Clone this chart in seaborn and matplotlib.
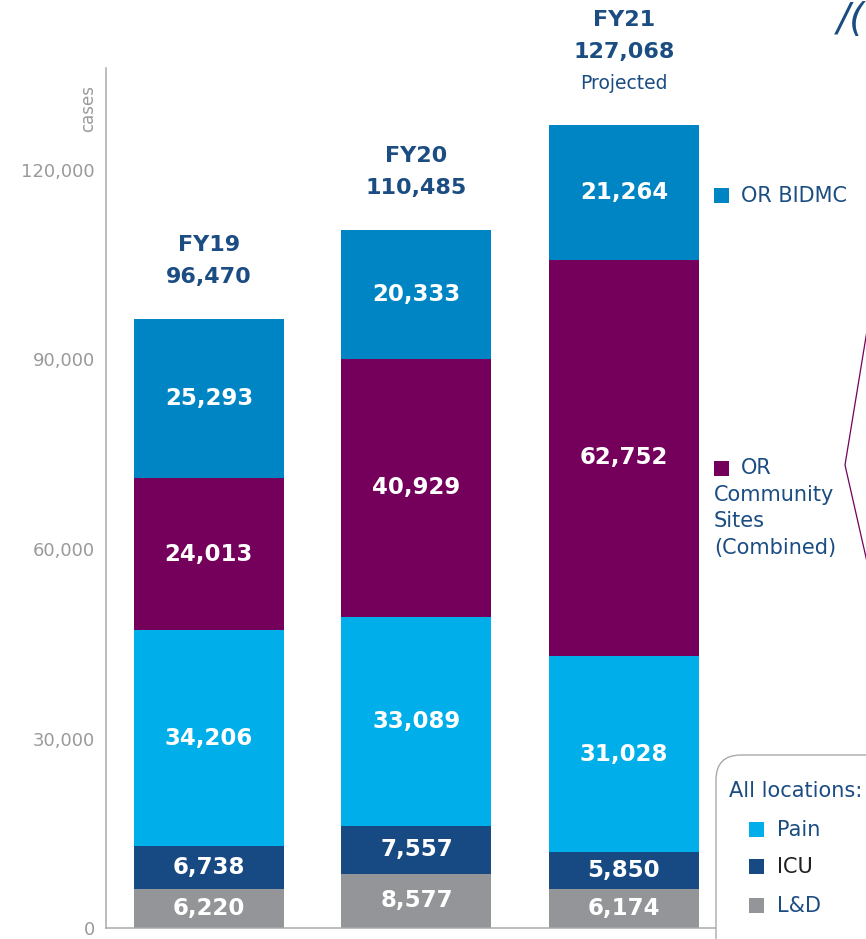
import matplotlib
matplotlib.use("Agg")
import matplotlib.pyplot as plt
import seaborn as sns
import pandas as pd
import numpy as np
from matplotlib.patches import Rectangle, FancyBboxPatch
from matplotlib.lines import Line2D

# ---------------- data ----------------
years = ["FY19", "FY20", "FY21"]
totals_text = ["96,470", "110,485", "127,068"]
ld = [6220, 8577, 6174]
icu = [6738, 7557, 5850]
pain = [34206, 33089, 31028]
or_comm = [24013, 40929, 62752]
or_bidmc = [25293, 20333, 21264]
series_names = ["L&D", "ICU", "Pain", "OR Community", "OR BIDMC"]
y_ticks = [0, 30000, 60000, 90000, 120000]

C_LD = "#939598"
C_ICU = "#174A83"
C_PAIN = "#00AEEA"
C_COMM = "#74005C"
C_BIDMC = "#0085C4"
C_TEXT = "#1B4C82"
C_GRAY = "#9a9a9a"

series = [ld, icu, pain, or_comm, or_bidmc]
colors = [C_LD, C_ICU, C_PAIN, C_COMM, C_BIDMC]

df = pd.DataFrame({"year": years})
for n, s in zip(series_names, series):
    df[n] = s
cum = df[series_names].cumsum(axis=1)
bottoms = cum.shift(1, axis=1).fillna(0)

sns.set_style("white")
plt.rcParams["font.family"] = ["DejaVu Sans"]

W, H = 866, 939
fig = plt.figure(figsize=(W / 100, H / 100), dpi=100)
ax = fig.add_axes([106 / W, (H - 928) / H, (716 - 106) / W, (928 - 68) / H])

bar_w = 150 / 207.5
# draw from the top layer downward so each cumulative bar covers the next
for n, c in reversed(list(zip(series_names, colors))):
    sns.barplot(x=df["year"], y=cum[n], color=c, saturation=1, width=bar_w,
                linewidth=0, ax=ax, order=years)

ax.set_xlim(-0.496, 2 + (716 - 624) / 207.5)
ax.set_ylim(0, 860 * 120000 / 758)
ax.set_yticks(y_ticks)
ax.set_yticklabels([f"{v:,}" for v in y_ticks])
ax.set_xticks([])
ax.set_xlabel("")
ax.set_ylabel("")
for side in ["top", "right"]:
    ax.spines[side].set_visible(False)
for side in ["left", "bottom"]:
    ax.spines[side].set_color("#a9a9a9")
    ax.spines[side].set_linewidth(1.1)
ax.tick_params(axis="y", direction="in", length=11, width=1.1, color="#a9a9a9",
               labelsize=13, labelcolor=C_GRAY, pad=8)

# segment labels
for i in range(len(years)):
    for n in series_names:
        v = df.loc[i, n]
        mid = bottoms.loc[i, n] + v / 2
        ax.text(i, mid, f"{v:,}", ha="center", va="center", color="white",
                fontsize=16.5, fontweight="bold")

# top labels
for i, yr in enumerate(years):
    top = cum.loc[i, "OR BIDMC"]
    lines = [(yr, "bold"), (totals_text[i], "bold")]
    if yr == "FY21":
        lines.append(("Projected", "normal"))
    k = len(lines)
    for j, (t, w) in enumerate(lines):
        off = 30 + (k - 1 - j) * 23
        ax.annotate(t, (i, top), xytext=(0, off), textcoords="offset points",
                    ha="center", va="center", color=C_TEXT, fontsize=16 if w == "bold" else 13.5,
                    fontweight=w, annotation_clip=False)

# "cases" axis caption
def fx(x):
    return x / W
def fy(y):
    return 1 - y / H

fig.text(fx(88), fy(108), "cases", rotation=90, ha="center", va="center",
         color=C_GRAY, fontsize=12)

# right-side legend items
inch = fig.dpi_scale_trans
def sq(x, y, c, s=15):
    fig.patches.append(Rectangle((x / 100, (H - y - s) / 100), s / 100, s / 100,
                                 transform=inch, facecolor=c, edgecolor="none"))

LFS = 15
sq(714, 188, C_BIDMC)
fig.text(fx(741), fy(196), "OR BIDMC", ha="left", va="center", color=C_TEXT, fontsize=LFS)
sq(714, 461, C_COMM)
fig.text(fx(741), fy(468), "OR", ha="left", va="center", color=C_TEXT, fontsize=LFS)
for yy, t in [(495, "Community"), (521, "Sites"), (548, "(Combined)")]:
    fig.text(fx(714), fy(yy), t, ha="left", va="center", color=C_TEXT, fontsize=LFS)

# connector line
fig.lines.append(Line2D([872 / 100, 845 / 100, 870 / 100],
                        [(H - 300) / 100, (H - 465) / 100, (H - 575) / 100],
                        transform=inch, color=C_COMM, lw=0.9))

# rounded box legend
fig.patches.append(FancyBboxPatch((716 / 100, (H - 990) / 100), 300 / 100, 235 / 100,
                                  boxstyle="round,pad=0,rounding_size=0.25",
                                  transform=inch, facecolor="white", edgecolor="#a9a9a9",
                                  lw=1.0))
fig.text(fx(729), fy(791), "All locations:", ha="left", va="center", color=C_TEXT, fontsize=LFS)
for yy, c, t, tc in [(830, C_PAIN, "Pain", C_TEXT), (867, C_ICU, "ICU", "#231F20"),
                     (906, C_LD, "L&D", C_TEXT)]:
    sq(749, yy - 8, c)
    fig.text(fx(777), fy(yy), t, ha="left", va="center", color=tc, fontsize=LFS)

# fragment of a headline glyph at the top-right corner
fig.text(fx(865), fy(1), "/(", ha="right", va="top", color=C_TEXT,
         fontsize=28, fontstyle="italic")

fig.savefig("out.png", dpi=100)
